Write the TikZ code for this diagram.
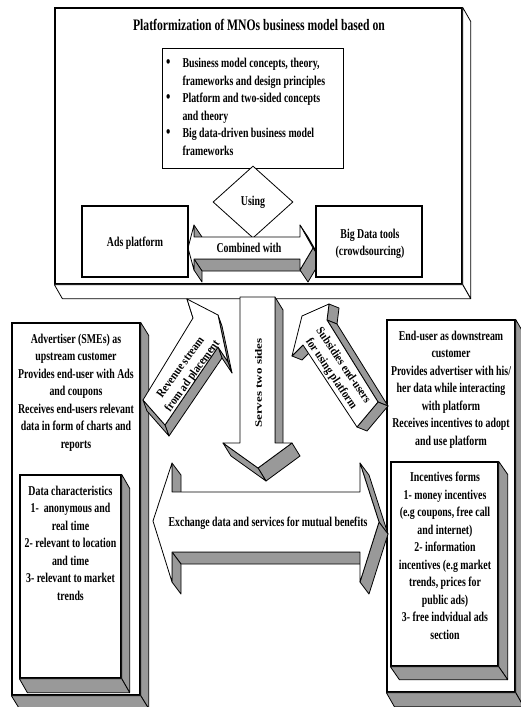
\documentclass[tikz,border=0pt]{standalone}
\usepackage{fontspec}
\setmainfont{Liberation Serif}[FakeStretch=0.73]
\newfontfamily\diagfont{Liberation Serif}[FakeStretch=0.88]
\newfontfamily\vertfont{Liberation Serif}
\usetikzlibrary{calc,shapes.geometric}

\tikzset{
  frontbox/.style={draw, fill=white, line width=1.3pt, inner sep=0pt},
  arrowface/.style={draw, fill=white, line width=0.8pt, line join=round},
  side/.style={draw, fill=gray!80, line width=0.8pt, line join=round},
  sidewhite/.style={draw, fill=white, line width=0.8pt, line join=round},
  txt/.style={font=\bfseries\fontsize{13.5}{17.5}\selectfont, align=center, inner sep=0pt},
  titletxt/.style={font=\bfseries\fontsize{16}{19}\selectfont, inner sep=0pt},
  dtxt/.style={font=\diagfont\bfseries\fontsize{12}{14.5}\selectfont, align=center, inner sep=0pt},
  vtxt/.style={font=\vertfont\bfseries\fontsize{13}{16}\selectfont, inner sep=0pt},
}

\begin{document}
\begin{tikzpicture}[x=1pt, y=-1pt]
  \useasboundingbox (0,0) rectangle (520,707);

  % Define the macro.
  % 1st argument (optional): style of the face.
  % 2nd and 3rd argument: end points of the front edge.
  % 4th argument: depth offset --> pushes the edge back to give the solid look.
  \newcommand{\sideFace}[4][side]{
    \filldraw[#1] (#2) -- (#3) -- ($(#3)+(#4)$) -- ($(#2)+(#4)$) -- cycle;
  }
  \newcommand{\bigdot}{{\fontsize{17}{17.5}\selectfont\textbullet}}

  % MNO PLATFORM
  \node[frontbox, minimum width=407, minimum height=276] (mno) at (258.5,146) {};
  \sideFace[sidewhite]{mno.north east}{mno.south east}{8,14}
  \sideFace[sidewhite]{mno.south east}{mno.south west}{8,14}
  \node[titletxt] (title) at (259,25) {Platformization of MNOs business model based on};

  \node[frontbox, line width=0.9pt, minimum width=181, minimum height=120] (theorybox) at (252.5,108) {};
  \node[txt, anchor=west] (theory) at (166,108) {\begin{tabular}{@{}l@{\hspace{12pt}}l@{}}
    \bigdot & Business model concepts, theory,\\
            & frameworks and design principles\\
    \bigdot & Platform and two-sided concepts\\
            & and theory\\
    \bigdot & Big data-driven business model\\
            & frameworks
  \end{tabular}};

  \node[diamond, draw, fill=white, line width=0.8pt, txt, minimum width=80, minimum height=72] (using) at (253,202) {Using};

  % combined with (double arrow)
  \sideFace{300,259}{194,259}{8,12}
  \sideFace{194,259}{194,270}{8,12}
  \sideFace{194,225}{194,237}{8,12}
  \sideFace{300,225}{313,248}{8,12}
  \sideFace{313,248}{300,270}{8,12}
  \filldraw[arrowface] (188,248) -- (194,225) -- (194,237) -- (300,237) -- (300,225) -- (313,248)
    -- (300,270) -- (300,259) -- (194,259) -- (194,270) -- cycle;
  \node[txt] (combined) at (249,248) {Combined with};

  \node[frontbox, minimum width=106, minimum height=71] (ads) at (135,241.5) {};
  \node[txt] (adstxt) at (135,243) {Ads platform};
  \node[frontbox, minimum width=106, minimum height=71] (bigdata) at (369,241.5) {};
  \node[txt] (bigdatatxt) at (370,244) {Big Data tools\\(crowdsourcing)};

  % ADVERTISER SIDE
  \node[frontbox, minimum width=128, minimum height=372] (adv) at (76,509) {};
  \sideFace{adv.north east}{adv.south east}{8,13}
  \sideFace{adv.south east}{adv.south west}{8,13}
  \node[txt] (advtxt) at (76,392.5) {Advertiser (SMEs) as\\upstream customer\\Provides end-user with Ads\\and coupons\\Receives end-users relevant\\data in form of charts and\\reports};

  \node[frontbox, minimum width=101, minimum height=203] (datachar) at (70.5,576.5) {};
  \sideFace{datachar.north east}{datachar.south east}{8,14}
  \sideFace{datachar.south east}{datachar.south west}{8,14}
  \node[txt] (datatxt) at (70.5,543) {Data characteristics\\1-\ \ anonymous and\\real time\\2- relevant to location\\and time\\3- relevant to market\\trends};

  % END-USER SIDE
  \node[frontbox, minimum width=128, minimum height=372] (enduser) at (451,506) {};
  \sideFace{enduser.north east}{enduser.south east}{8,14}
  \sideFace{enduser.south east}{enduser.south west}{8,14}
  \node[txt] (endusertxt) at (451,389.5) {End-user as downstream\\customer\\Provides advertiser with his/\\her data while interacting\\with platform\\Receives incentives to adopt\\and use platform};

  \node[frontbox, minimum width=107, minimum height=204] (incent) at (444.5,564) {};
  \sideFace{incent.north east}{incent.south east}{9,13}
  \sideFace{incent.south east}{incent.south west}{9,13}
  \node[txt] (incenttxt) at (445,556) {Incentives forms\\1- money incentives\\(e.g coupons, free call\\and internet)\\2- information\\incentives (e.g market\\trends, prices for\\public ads)\\3- free indvidual ads\\section};

  % serves two sides
  \sideFace{275,297}{275,443}{8,13}
  \sideFace{292,443}{258,468}{8,13}
  \sideFace{258,468}{223,443}{8,13}
  \filldraw[arrowface] (240,297) -- (275,297) -- (275,443) -- (292,443) -- (258,468) -- (223,443) -- (240,443) -- cycle;
  \node[vtxt] (serves) at (258.5,383) {\rotatebox{90}{\scalebox{1}[0.75]{Serves two sides}}};

  % revenue stream
  \sideFace{193,318}{187,299}{4,11}
  \sideFace{218,315}{228,362}{4,11}
  \sideFace{228,362}{218,347}{4,11}
  \sideFace{218,347}{165,425}{4,11}
  \sideFace{165,425}{143,400}{4,11}
  \filldraw[arrowface] (143,400) -- (193,318) -- (187,299) -- (218,315) -- (228,362) -- (218,347) -- (165,425) -- cycle;
  \node[dtxt, rotate=54] (revenue) at (187,372) {Revenue stream\\from ad placement};

  % subsidies
  \sideFace{292,356}{303,345}{10,4}
  \sideFace{327,320}{329,304}{10,4}
  \sideFace{378,402}{327,320}{10,4}
  \sideFace{357,427}{378,402}{10,4}
  \filldraw[arrowface] (378,402) -- (327,320) -- (329,304) -- (302,316) -- (292,356) -- (303,345) -- (357,427) -- cycle;
  \node[dtxt, rotate=-56] (subsidy) at (337,370) {Subsidies end-users\\for using platform};

  % exchange (double arrow)
  \sideFace{360,552}{172,552}{9,12}
  \sideFace{172,552}{172,582}{9,12}
  \sideFace{172,463}{172,492}{9,12}
  \sideFace{360,463}{379,522}{9,12}
  \sideFace{379,522}{360,582}{9,12}
  \filldraw[arrowface] (153,521) -- (172,463) -- (172,492) -- (360,492) -- (360,463) -- (379,522)
    -- (360,582) -- (360,552) -- (172,552) -- (172,582) -- cycle;
  \node[txt] (exchange) at (268,523) {Exchange data and services for mutual benefits};

\end{tikzpicture}
\end{document}
